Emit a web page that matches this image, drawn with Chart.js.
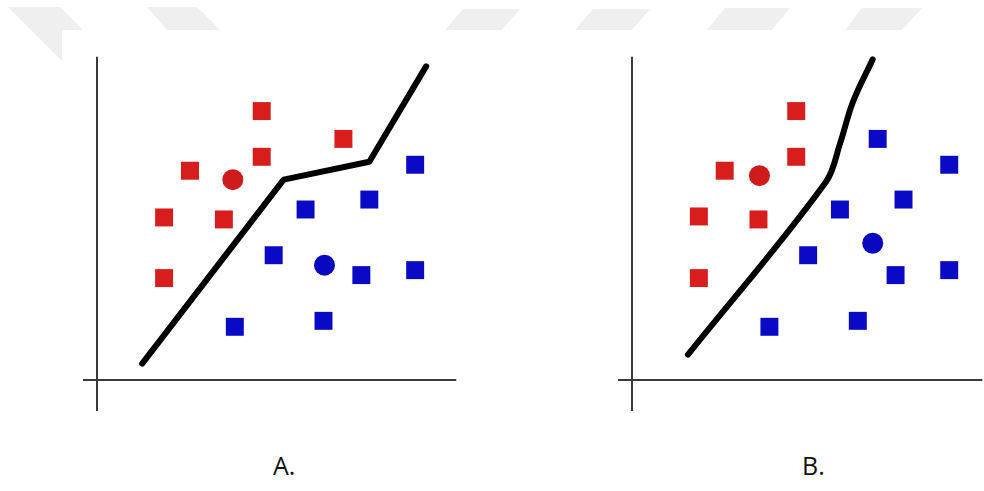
<!DOCTYPE html>
<html>
<head>
<meta charset="utf-8">
<script src="https://cdn.jsdelivr.net/npm/chart.js@4"></script>
<style>
  html, body { margin: 0; padding: 0; background: #fff; overflow: hidden; }
  body { width: 984px; height: 491px; position: relative; font-family: "Open Sans", sans-serif; }
  #marks { position: absolute; left: 0; top: 0; }
  .panel { position: absolute; }
  .label { position: absolute; top: 453px; font-size: 25px; line-height: 25px; color: #111; }
</style>
</head>
<body>
<svg id="marks" width="984" height="70">
  <g fill="#efefef">
    <polygon points="8,7 60,7 83,30 62,30 62,61"/>
    <polygon points="147,7 197,7 220,30 167,30"/>
    <polygon points="463,9 520,9 502,30 445,30"/>
    <polygon points="593,9 650,9 632,30 575,30"/>
    <polygon points="725,8 790,8 772,30 707,30"/>
    <polygon points="862,8 922,8 902,30 845,30"/>
  </g>
</svg>
<div class="panel" id="pa"><canvas id="chartA"></canvas></div>
<div class="panel" id="pb"><canvas id="chartB"></canvas></div>
<div class="label" style="left:273px">A.</div>
<div class="label" style="left:802px">B.</div>
<script>
// panel A
var redA = [[16.5, 27.1], [24.7, 24.3], [16.5, 22.5], [9.3, 21.1], [6.7, 16.4], [12.7, 16.2], [6.7, 10.3]];
var redCircleA = [[13.6, 20.2]];
var blueA = [[31.9, 21.7], [27.3, 18.2], [20.9, 17.2], [17.7, 12.6], [26.5, 10.6], [31.9, 11.1], [13.8, 5.4], [22.7, 6.0]];
var blueCircleA = [[22.8, 11.6]];
var boundaryA = [[4.5, 1.7], [18.7, 20.2], [27.3, 22.0], [33.0, 31.6]];

// panel B
var redB = [[16.5, 27.1], [16.5, 22.5], [9.3, 21.1], [6.7, 16.5], [12.7, 16.2], [6.7, 10.3]];
var redCircleB = [[12.8, 20.6]];
var blueB = [[24.7, 24.3], [31.9, 21.7], [27.3, 18.2], [20.9, 17.2], [17.7, 12.6], [26.5, 10.6], [31.9, 11.1], [13.8, 5.4], [22.7, 6.0]];
var blueCircleB = [[24.2, 13.8]];
var boundaryB = [[5.6, 2.6], [19.5, 20.0], [20.9, 23.8], [22.2, 28.0], [24.2, 32.3]];

// axis ranges (origin at 0,0, axes overhang a bit)
var xRangeA = [-1.47, 36.03];
var xRangeB = [-1.47, 35.23];
var yRange = [-3.1, 32.57];

var RED = "#d81d1d";
var BLUE = "#0a0ac6";
var PAD = 12;
var PX = 10; // pixels per unit

function pts(arr) {
  return arr.map(function(p) { return {x: p[0], y: p[1]}; });
}

function markers(arr, color, style, r) {
  return {
    type: "scatter",
    data: pts(arr),
    pointStyle: style,
    pointRadius: r,
    pointBackgroundColor: color,
    pointBorderColor: color,
    pointBorderWidth: 0,
    clip: false
  };
}

function axis(min, max) {
  return {
    type: "linear",
    min: min,
    max: max,
    afterBuildTicks: function(s) { s.ticks = [{value: 0}]; },
    ticks: {display: false},
    border: {display: false},
    grid: {color: "#3a3a3a", lineWidth: 2, drawTicks: false}
  };
}

function drawPanel(id, boxId, left, xr, red, redC, blue, blueC, line, tension) {
  var w = (xr[1] - xr[0]) * PX + 2 * PAD;
  var h = (yRange[1] - yRange[0]) * PX + 2 * PAD;
  var box = document.getElementById(boxId);
  box.style.left = (left - PAD) + "px";
  box.style.top = (56 - PAD) + "px";
  var cv = document.getElementById(id);
  cv.width = w;
  cv.height = h;
  return new Chart(cv, {
    type: "scatter",
    data: {
      datasets: [
        {
          type: "line",
          data: pts(line),
          borderColor: "#000",
          borderWidth: 6,
          borderCapStyle: "round",
          borderJoinStyle: "round",
          tension: tension,
          pointRadius: 0,
          fill: false,
          clip: false
        },
        markers(red, RED, "rect", 12.7),
        markers(blue, BLUE, "rect", 12.7),
        markers(redC, "#cf1b1b", "circle", 10.5),
        markers(blueC, "#0808c0", "circle", 10.5)
      ]
    },
    options: {
      responsive: false,
      animation: false,
      layout: {padding: PAD},
      plugins: {legend: {display: false}, tooltip: {enabled: false}},
      scales: {x: axis(xr[0], xr[1]), y: axis(yRange[0], yRange[1])}
    }
  });
}

drawPanel("chartA", "pa", 82, xRangeA, redA, redCircleA, blueA, blueCircleA, boundaryA, 0);
drawPanel("chartB", "pb", 617, xRangeB, redB, redCircleB, blueB, blueCircleB, boundaryB, 0.35);
</script>
</body>
</html>
